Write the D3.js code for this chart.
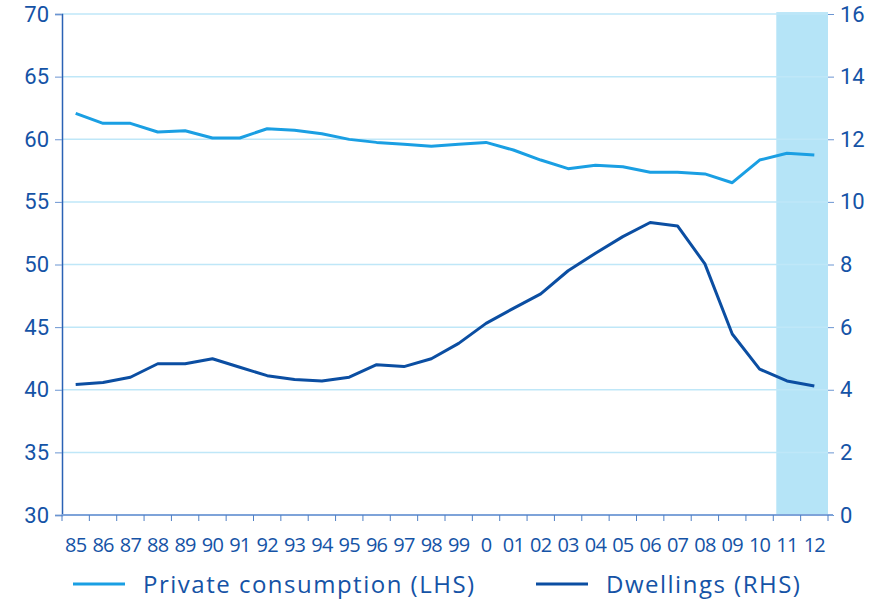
<!DOCTYPE html>
<html><head><meta charset="utf-8">
<script src="https://cdn.jsdelivr.net/npm/d3@7"></script>
<style>
body{margin:0;background:#fff;}
text{font-family:"Open Sans",sans-serif;fill:#1553a6;}
</style></head>
<body><svg id="c" width="872" height="601"></svg>
<script>
const years = ["85","86","87","88","89","90","91","92","93","94","95","96","97","98","99","0","01","02","03","04","05","06","07","08","09","10","11","12"];
const privateConsumption = [62.07,61.27,61.27,60.58,60.68,60.1,60.1,60.84,60.71,60.44,59.99,59.75,59.6,59.44,59.6,59.75,59.14,58.34,57.65,57.92,57.8,57.36,57.36,57.23,56.53,58.34,58.88,58.74];
const dwellings = [4.17,4.23,4.40,4.83,4.83,4.99,4.72,4.45,4.33,4.28,4.40,4.80,4.74,4.99,5.48,6.12,6.60,7.06,7.80,8.36,8.89,9.34,9.23,8.02,5.78,4.66,4.28,4.12];
const leftTicks = [30,35,40,45,50,55,60,65,70];
const rightTicks = [0,2,4,6,8,10,12,14,16];
const shadedFrom = "11", shadedTo = "12";
const seriesNames = ["Private consumption (LHS)","Dwellings (RHS)"];

const svg = d3.select("#c");
const m = {l:62, r:828, t:14, b:515};
const x = d3.scaleBand().domain(years).range([m.l, m.r]).paddingInner(0).paddingOuter(0);
const yL = d3.scaleLinear().domain([30,70]).range([m.b, m.t]);
const yR = d3.scaleLinear().domain([0,16]).range([m.b, m.t]);
const cx = d => x(d) + x.bandwidth()/2;

// shaded area
svg.append("rect")
  .attr("x", x(shadedFrom) + 3)
  .attr("width", x(shadedTo) + x.bandwidth() - x(shadedFrom) - 3)
  .attr("y", yL(70.15))
  .attr("height", yL(30) - yL(70.15))
  .attr("fill", "#b5e4f7");

// grid
svg.append("g").selectAll("line").data(leftTicks.filter(d=>d>30)).join("line")
  .attr("x1", m.l).attr("x2", m.r)
  .attr("y1", d=>yL(d)).attr("y2", d=>yL(d))
  .attr("stroke", "#bfe7f8").attr("stroke-width", 1.5);

// left axis
const gl = svg.append("g").attr("transform", `translate(${m.l},0)`)
  .call(d3.axisLeft(yL).tickValues(leftTicks).tickSize(7).tickPadding(6));
gl.select(".domain").attr("stroke", "#2a62b5").attr("stroke-width", 1.5);
gl.selectAll(".tick line").attr("stroke", "#6b95d2");
gl.selectAll(".tick text").attr("font-size", 22).attr("fill", "#1553a6").style("font-family","Roboto,sans-serif");

// right axis
const gr = svg.append("g").attr("transform", `translate(${m.r},0)`)
  .call(d3.axisRight(yR).tickValues(rightTicks).tickSize(6).tickPadding(6));
gr.select(".domain").remove();
gr.selectAll(".tick line").attr("stroke", "#6b95d2");
gr.selectAll(".tick text").attr("font-size", 22).attr("fill", "#1553a6").style("font-family","Roboto,sans-serif");

// bottom axis
const gb = svg.append("g").attr("transform", `translate(0,${m.b})`);
gb.append("line").attr("x1", m.l).attr("x2", m.r + 5).attr("y1", 0).attr("y2", 0)
  .attr("stroke", "#7ea3d9").attr("stroke-width", 2);
const bounds = years.map(d => x(d)).concat([x(years[years.length-1]) + x.bandwidth()]);
gb.selectAll("line.t").data(bounds).join("line").attr("class","t")
  .attr("x1", d=>d).attr("x2", d=>d).attr("y1", 0).attr("y2", 6)
  .attr("stroke", "#4f7fc4").attr("stroke-width", 1);
gb.selectAll("text").data(years).join("text")
  .attr("x", d=>cx(d)).attr("y", 37)
  .attr("text-anchor","middle").attr("font-size", 20).attr("letter-spacing","-0.8")
  .text(d=>d);

// lines
svg.append("path").datum(privateConsumption)
  .attr("d", d3.line().x((d,i)=>cx(years[i])).y(d=>yL(d)))
  .attr("fill","none").attr("stroke","#1a9fe3").attr("stroke-width",3).attr("stroke-linejoin","round");
svg.append("path").datum(dwellings)
  .attr("d", d3.line().x((d,i)=>cx(years[i])).y(d=>yR(d)))
  .attr("fill","none").attr("stroke","#0b4ea2").attr("stroke-width",3).attr("stroke-linejoin","round");

// legend
const leg = [{name:seriesNames[0], c:"#1a9fe3", x:73},{name:seriesNames[1], c:"#0b4ea2", x:536}];
const lg = svg.append("g").selectAll("g").data(leg).join("g").attr("transform", d=>`translate(${d.x},584)`);
lg.append("line").attr("x1",0).attr("x2",52).attr("y1",0).attr("y2",0).attr("stroke",d=>d.c).attr("stroke-width",3);
lg.append("text").attr("x",70).attr("y",9).attr("font-size",24).attr("letter-spacing","1.5").text(d=>d.name);
</script></body></html>
